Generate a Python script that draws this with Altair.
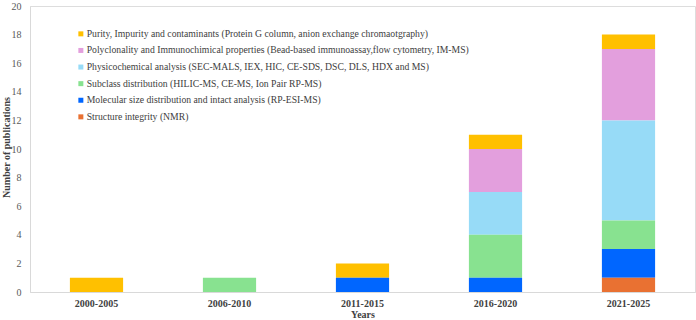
import altair as alt
import pandas as pd

periods = ["2000-2005", "2006-2010", "2011-2015", "2016-2020", "2021-2025"]
categories = [
    "Purity, Impurity and contaminants (Protein G column,  anion exchange chromaotgraphy)",
    "Polyclonality and Immunochimical properties (Bead-based immunoassay,flow cytometry, IM-MS)",
    "Physicochemical analysis (SEC-MALS, IEX, HIC, CE-SDS, DSC, DLS, HDX and MS)",
    "Subclass distribution (HILIC-MS, CE-MS, Ion Pair RP-MS)",
    "Molecular size distribution and intact analysis (RP-ESI-MS)",
    "Structure integrity  (NMR)",
]
colors = ["#FFC000", "#E39FDD", "#97DBF7", "#88E290", "#0066FF", "#E97132"]
# values per category across periods
purity = [1, 0, 1, 1, 1]
polyclonality = [0, 0, 0, 3, 5]
physicochemical = [0, 0, 0, 3, 7]
subclass = [0, 1, 0, 3, 2]
molecular = [0, 0, 1, 1, 2]
structure = [0, 0, 0, 0, 1]
series = [purity, polyclonality, physicochemical, subclass, molecular, structure]

rows = []
for ci, (cat, vals) in enumerate(zip(categories, series)):
    for p, v in zip(periods, vals):
        rows.append({"Period": p, "Category": cat, "Value": v, "order": len(categories) - ci})
df = pd.DataFrame(rows)

font = "Liberation Serif, Times New Roman, serif"

chart = alt.Chart(df).mark_bar().encode(
    x=alt.X("Period:N", sort=periods,
            scale=alt.Scale(paddingInner=0.6, paddingOuter=0.3),
            axis=alt.Axis(title="Years", labelAngle=0, ticks=False, labelFontWeight="bold",
                          labelFont=font, labelFontSize=10, labelColor="#404040",
                          titleFont=font, titleFontSize=10, titleFontWeight="bold",
                          titleColor="#404040", domainColor="#D9D9D9", labelPadding=6,
                          titlePadding=1)),
    y=alt.Y("Value:Q", stack="zero",
            scale=alt.Scale(domain=[0, 20], nice=False),
            axis=alt.Axis(title="Number of publications", values=list(range(0, 21, 2)),
                          grid=False, ticks=False, labelFont=font, labelFontSize=10,
                          labelColor="#595959", labelPadding=9, domainColor="#D9D9D9",
                          titleFont=font, titleFontSize=10, titleFontWeight="bold",
                          titleColor="#404040", titleX=-19, titleY=141, titleAngle=270,
                          titleBaseline="bottom", titleAlign="center")),
    color=alt.Color("Category:N", sort=categories,
                    scale=alt.Scale(domain=categories, range=colors),
                    legend=alt.Legend(title=None, orient="none", legendX=46, legendY=23,
                                      symbolType="square", symbolSize=25, symbolStrokeWidth=0,
                                      labelFont=font, labelFontSize=9.7, labelColor="#404040",
                                      rowPadding=5.6, labelLimit=600, symbolOffset=0,
                                      labelOffset=1)),
    order=alt.Order("order:Q", sort="ascending"),
).properties(
    width=665, height=286,
    padding={"left": 30, "top": 6, "right": 1, "bottom": 28},
    autosize=alt.AutoSizeParams(type="none"),
).configure_view(stroke=None).configure(background="white", font=font)

chart.save("out.html", embed_options={"renderer": "svg", "actions": False})
